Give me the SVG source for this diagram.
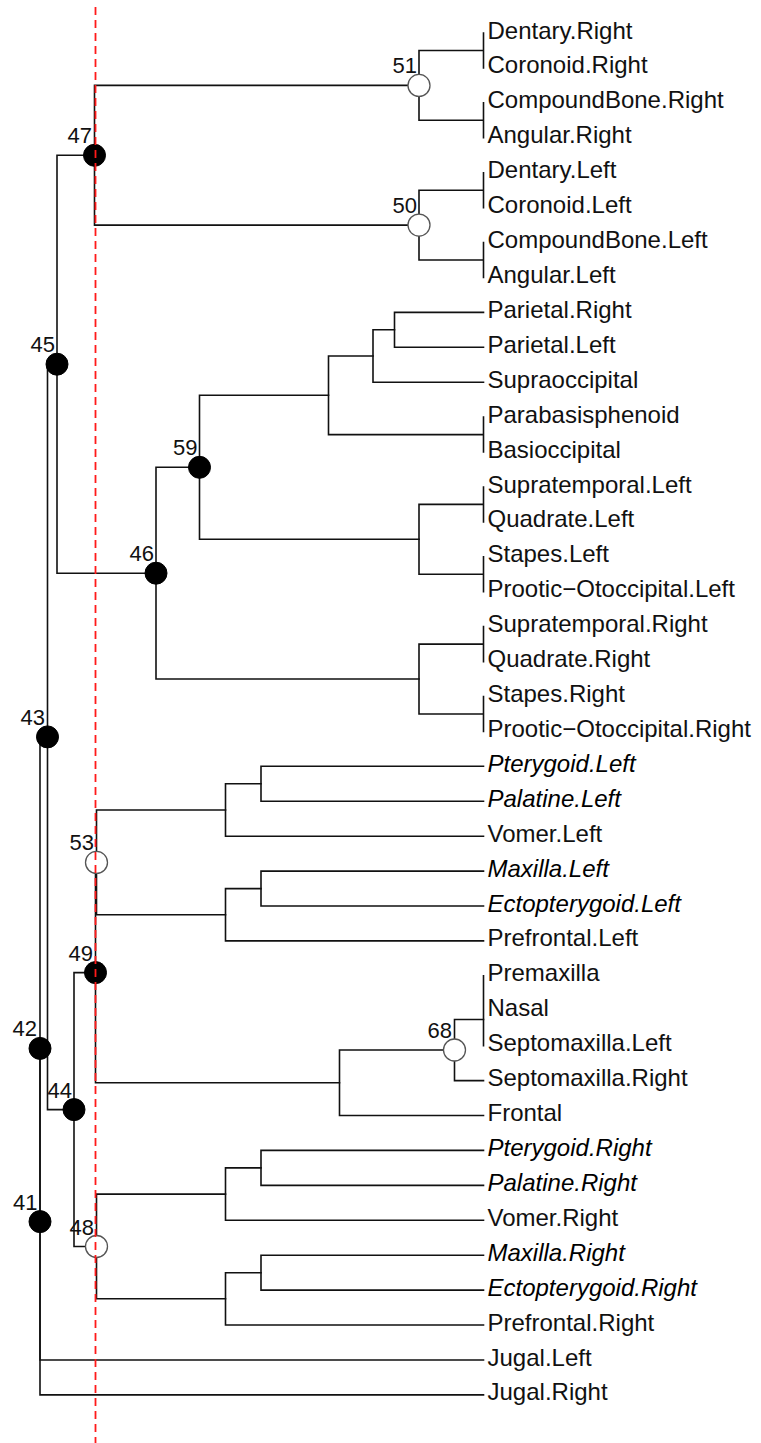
<svg xmlns="http://www.w3.org/2000/svg" width="761" height="1443" viewBox="0 0 761 1443">
  <style>
    .edge { fill: none; stroke: #111; stroke-width: 1.6; stroke-linecap: square; }
    .tip { font-family: "Liberation Sans", Arial, sans-serif; font-size: 24px; fill: #111; }
    .it { font-style: italic; fill: #000; }
    .nlab { font-family: "Liberation Sans", Arial, sans-serif; font-size: 22px; fill: #111; text-anchor: end; }
    .full { fill: #000; stroke: #000; stroke-width: 1; }
    .open { fill: #fff; stroke: #555; stroke-width: 1.3; }
    .cut { stroke: #ff1a1a; stroke-width: 1.8; stroke-dasharray: 8 5; fill: none; }
  </style>
  <rect width="761" height="1443" fill="#fff"/>

  <!-- branches: vertical at parent x, horizontals out to each child -->
  <g id="connectors" class="edge">
    <path d="M483.5,33V67.9 M483.5,102.8V137.8 M419,50.5V120.3 M419,50.5H483.5 M419,120.3H483.5"/>
    <path d="M483.5,172.7V207.6 M483.5,242.5V277.4 M419,190.2V260 M419,190.2H483.5 M419,260H483.5"/>
    <path d="M94.5,85.4V225.1 M94.5,85.4H419 M94.5,225.1H419"/>
    <path d="M394.5,312.4V347.3 M394.5,312.4H483.5 M394.5,347.3H483.5"/>
    <path d="M373,329.8V382.2 M373,329.8H394.5 M373,382.2H483.5"/>
    <path d="M483.5,417.1V452 M328.5,356V434.6 M328.5,356H373 M328.5,434.6H483.5"/>
    <path d="M483.5,487V521.9 M483.5,556.8V591.7 M419,504.4V574.3 M419,504.4H483.5 M419,574.3H483.5"/>
    <path d="M199.5,395.3V539.3 M199.5,395.3H328.5 M199.5,539.3H419"/>
    <path d="M483.5,626.6V661.6 M483.5,696.5V731.4 M419,644.1V714 M419,644.1H483.5 M419,714H483.5"/>
    <path d="M156,467.3V679 M156,467.3H199.5 M156,679H419"/>
    <path d="M57,155.3V573.2 M57,155.3H94.5 M57,573.2H156"/>
    <path d="M261,766.3V801.2 M261,766.3H483.5 M261,801.2H483.5"/>
    <path d="M225.5,783.8V836.2 M225.5,783.8H261 M225.5,836.2H483.5"/>
    <path d="M261,871.1V906 M261,871.1H483.5 M261,906H483.5"/>
    <path d="M225.5,888.6V940.9 M225.5,888.6H261 M225.5,940.9H483.5"/>
    <path d="M96.5,810V914.7 M96.5,810H225.5 M96.5,914.7H225.5"/>
    <path d="M483.5,975.8V1045.7"/>
    <path d="M454.5,1019.5V1080.6 M454.5,1019.5H483.5 M454.5,1080.6H483.5"/>
    <path d="M339.5,1050V1115.5 M339.5,1050H454.5 M339.5,1115.5H483.5"/>
    <path d="M95.5,862.4V1082.8 M95.5,862.4H96.5 M95.5,1082.8H339.5"/>
    <path d="M261,1150.4V1185.4 M261,1150.4H483.5 M261,1185.4H483.5"/>
    <path d="M225.5,1167.9V1220.3 M225.5,1167.9H261 M225.5,1220.3H483.5"/>
    <path d="M261,1255.2V1290.1 M261,1255.2H483.5 M261,1290.1H483.5"/>
    <path d="M225.5,1272.7V1325 M225.5,1272.7H261 M225.5,1325H483.5"/>
    <path d="M96.5,1194.1V1298.8 M96.5,1194.1H225.5 M96.5,1298.8H225.5"/>
    <path d="M74,972.6V1246.5 M74,972.6H95.5 M74,1246.5H96.5"/>
    <path d="M47.5,364.2V1109.6 M47.5,364.2H57 M47.5,1109.6H74"/>
    <path d="M40,736.9V1360 M40,736.9H47.5 M40,1360H483.5"/>
    <path d="M40,1048.4V1394.9 M40,1394.9H483.5"/>
  </g>

  <!-- internal nodes -->
  <g id="node-51"><circle class="open" cx="419" cy="85.4" r="11"/><text class="nlab" x="417" y="73.4">51</text></g>
  <g id="node-50"><circle class="open" cx="419" cy="225.1" r="11"/><text class="nlab" x="417" y="213.1">50</text></g>
  <g id="node-47"><circle class="full" cx="94.5" cy="155.3" r="11"/><text class="nlab" x="92" y="143.3">47</text></g>
  <g id="node-45"><circle class="full" cx="57" cy="364.2" r="11"/><text class="nlab" x="55" y="352.2">45</text></g>
  <g id="node-59"><circle class="full" cx="199.5" cy="467.3" r="11"/><text class="nlab" x="197.5" y="455.3">59</text></g>
  <g id="node-46"><circle class="full" cx="156" cy="573.2" r="11"/><text class="nlab" x="154" y="561.2">46</text></g>
  <g id="node-43"><circle class="full" cx="47.5" cy="736.9" r="11"/><text class="nlab" x="45" y="724.9">43</text></g>
  <g id="node-53"><circle class="open" cx="96.5" cy="862.4" r="11"/><text class="nlab" x="94" y="850.4">53</text></g>
  <g id="node-49"><circle class="full" cx="95.5" cy="972.6" r="11"/><text class="nlab" x="93" y="960.6">49</text></g>
  <g id="node-68"><circle class="open" cx="454.5" cy="1050" r="11"/><text class="nlab" x="452" y="1038">68</text></g>
  <g id="node-42"><circle class="full" cx="40" cy="1048.4" r="11"/><text class="nlab" x="37" y="1036.4">42</text></g>
  <g id="node-44"><circle class="full" cx="74" cy="1109.6" r="11"/><text class="nlab" x="72" y="1097.6">44</text></g>
  <g id="node-41"><circle class="full" cx="40" cy="1221.6" r="11"/><text class="nlab" x="37.5" y="1209.6">41</text></g>
  <g id="node-48"><circle class="open" cx="96.5" cy="1246.5" r="11"/><text class="nlab" x="94" y="1234.5">48</text></g>

  <!-- cut line -->
  <g id="cut-line"><line class="cut" x1="95.5" y1="7" x2="95.5" y2="1443"/></g>

  <!-- tips -->
  <g id="tip-labels">
    <g id="tip-0"><text class="tip" x="487.5" y="38.5">Dentary.Right</text></g>
    <g id="tip-1"><text class="tip" x="487.5" y="73.4">Coronoid.Right</text></g>
    <g id="tip-2"><text class="tip" x="487.5" y="108.3">CompoundBone.Right</text></g>
    <g id="tip-3"><text class="tip" x="487.5" y="143.3">Angular.Right</text></g>
    <g id="tip-4"><text class="tip" x="487.5" y="178.2">Dentary.Left</text></g>
    <g id="tip-5"><text class="tip" x="487.5" y="213.1">Coronoid.Left</text></g>
    <g id="tip-6"><text class="tip" x="487.5" y="248">CompoundBone.Left</text></g>
    <g id="tip-7"><text class="tip" x="487.5" y="282.9">Angular.Left</text></g>
    <g id="tip-8"><text class="tip" x="487.5" y="317.9">Parietal.Right</text></g>
    <g id="tip-9"><text class="tip" x="487.5" y="352.8">Parietal.Left</text></g>
    <g id="tip-10"><text class="tip" x="487.5" y="387.7">Supraoccipital</text></g>
    <g id="tip-11"><text class="tip" x="487.5" y="422.6">Parabasisphenoid</text></g>
    <g id="tip-12"><text class="tip" x="487.5" y="457.5">Basioccipital</text></g>
    <g id="tip-13"><text class="tip" x="487.5" y="492.5">Supratemporal.Left</text></g>
    <g id="tip-14"><text class="tip" x="487.5" y="527.4">Quadrate.Left</text></g>
    <g id="tip-15"><text class="tip" x="487.5" y="562.3">Stapes.Left</text></g>
    <g id="tip-16"><text class="tip" x="487.5" y="597.2">Prootic−Otoccipital.Left</text></g>
    <g id="tip-17"><text class="tip" x="487.5" y="632.1">Supratemporal.Right</text></g>
    <g id="tip-18"><text class="tip" x="487.5" y="667.1">Quadrate.Right</text></g>
    <g id="tip-19"><text class="tip" x="487.5" y="702">Stapes.Right</text></g>
    <g id="tip-20"><text class="tip" x="487.5" y="736.9">Prootic−Otoccipital.Right</text></g>
    <g id="tip-21"><text class="tip it" x="487.5" y="771.8">Pterygoid.Left</text></g>
    <g id="tip-22"><text class="tip it" x="487.5" y="806.7">Palatine.Left</text></g>
    <g id="tip-23"><text class="tip" x="487.5" y="841.7">Vomer.Left</text></g>
    <g id="tip-24"><text class="tip it" x="487.5" y="876.6">Maxilla.Left</text></g>
    <g id="tip-25"><text class="tip it" x="487.5" y="911.5">Ectopterygoid.Left</text></g>
    <g id="tip-26"><text class="tip" x="487.5" y="946.4">Prefrontal.Left</text></g>
    <g id="tip-27"><text class="tip" x="487.5" y="981.3">Premaxilla</text></g>
    <g id="tip-28"><text class="tip" x="487.5" y="1016.3">Nasal</text></g>
    <g id="tip-29"><text class="tip" x="487.5" y="1051.2">Septomaxilla.Left</text></g>
    <g id="tip-30"><text class="tip" x="487.5" y="1086.1">Septomaxilla.Right</text></g>
    <g id="tip-31"><text class="tip" x="487.5" y="1121">Frontal</text></g>
    <g id="tip-32"><text class="tip it" x="487.5" y="1155.9">Pterygoid.Right</text></g>
    <g id="tip-33"><text class="tip it" x="487.5" y="1190.9">Palatine.Right</text></g>
    <g id="tip-34"><text class="tip" x="487.5" y="1225.8">Vomer.Right</text></g>
    <g id="tip-35"><text class="tip it" x="487.5" y="1260.7">Maxilla.Right</text></g>
    <g id="tip-36"><text class="tip it" x="487.5" y="1295.6">Ectopterygoid.Right</text></g>
    <g id="tip-37"><text class="tip" x="487.5" y="1330.5">Prefrontal.Right</text></g>
    <g id="tip-38"><text class="tip" x="487.5" y="1365.5">Jugal.Left</text></g>
    <g id="tip-39"><text class="tip" x="487.5" y="1400.4">Jugal.Right</text></g>
  </g>
</svg>
